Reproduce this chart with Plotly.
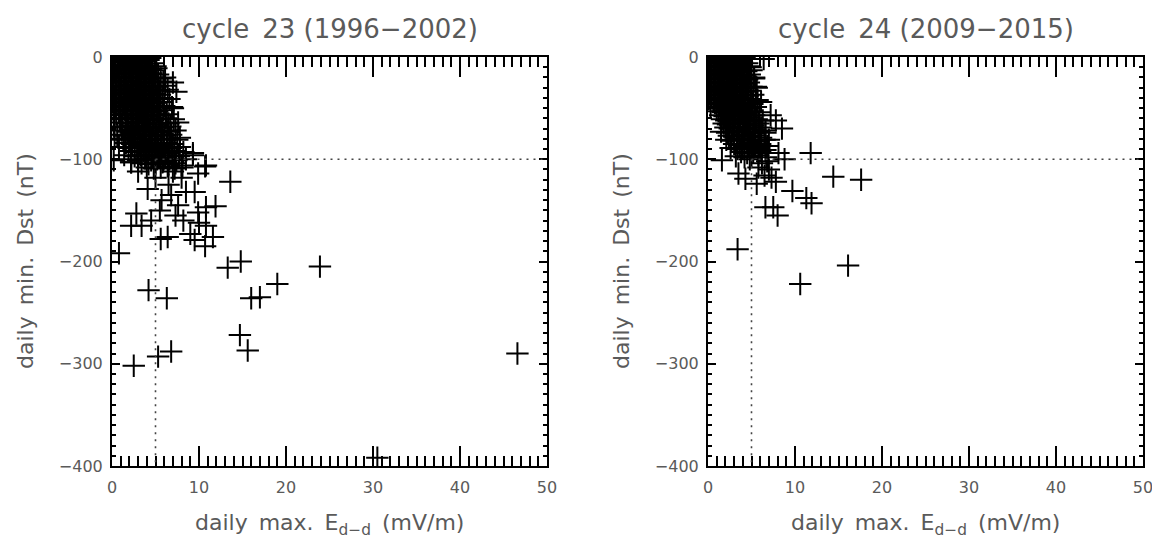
import plotly.graph_objects as go

# ---------------- cycle 23 (1996-2002) ----------------
x23 = [
    0.2,0.7,1.2,1.8,2.3,2.9,3.4,3.9,4.4,
    0.4,1.0,1.5,2.1,2.6,3.1,3.7,4.6,
    0.1,0.6,1.3,1.9,2.4,3.0,3.5,4.1,5.0,
    0.3,0.9,1.4,2.0,2.7,3.2,3.8,4.4,4.9,
    0.2,0.8,1.6,2.2,2.8,3.3,3.9,4.5,5.3,
    0.5,1.1,1.7,2.3,2.9,3.6,4.2,4.8,5.6,
    0.1,0.7,1.3,1.9,2.5,3.1,3.7,4.3,5.0,5.9,
    0.4,1.0,1.6,2.2,2.8,3.4,4.0,4.6,5.2,6.1,
    0.2,0.8,1.5,2.1,2.7,3.3,3.9,4.5,5.4,6.4,
    0.5,1.1,1.8,2.4,3.0,3.6,4.2,4.8,5.5,
    0.3,0.9,1.4,2.0,2.6,3.2,3.8,4.4,5.1,5.8,6.6,
    0.1,0.7,1.3,1.9,2.5,3.1,3.7,4.3,4.9,5.6,
    0.4,1.0,1.7,2.3,2.9,3.5,4.1,4.7,5.3,6.0,6.9,
    0.2,0.8,1.5,2.1,2.7,3.3,3.9,4.5,5.2,5.9,
    0.5,1.2,1.8,2.4,3.0,3.6,4.2,4.8,5.5,6.3,
    0.3,0.9,1.6,2.2,2.8,3.4,4.0,4.7,5.4,6.2,7.1,
    1.0,1.7,2.3,2.9,3.5,4.1,4.8,5.6,6.5,
    0.2,1.2,1.9,2.5,3.1,3.7,4.4,5.1,5.8,6.7,
    1.1,1.8,2.4,3.0,3.6,4.3,5.0,5.7,6.4,7.3,
    0.6,1.5,2.1,2.7,3.3,3.9,4.6,5.3,6.0,6.8,
    0.3,1.3,2.0,2.6,3.2,3.8,4.5,5.2,5.9,6.6,7.5,
    1.6,2.3,2.9,3.5,4.2,4.9,5.6,6.3,7.0,
    0.8,1.9,2.6,3.2,3.9,4.6,5.3,6.0,6.8,7.8,
    2.2,2.9,3.6,4.3,5.0,5.7,6.4,7.2,8.2,
    1.4,2.6,3.3,4.0,4.7,5.4,6.1,6.9,7.7,
    0.2,2.2,3.0,3.8,4.5,5.2,5.9,6.6,7.4,8.5,
    3.4,4.2,5.0,5.8,6.5,7.3,8.0,
    2.2,4.0,4.8,5.6,6.4,7.2,8.1,
    4.2,5.1,6.1,7.0,7.4,7.0,7.6,7.8,9.3,10.8,9.9,13.6,9.5,4.1,5.7,7.6,
    9.9,10.8,11.9,7.3,2.8,2.2,3.4,4.5,5.6,6.4,9.0,9.5,10.7,10.8,11.6,0.8,
    13.3,14.8,23.9,19.0,16.0,17.0,4.2,6.3,14.7,15.6,5.3,6.8,2.5,46.6,30.5,
    2.2,9.3,10.7,8.0,6.5,7.0,5.0,3.0,8.5,6.8,5.5,8.2,10.0,
]
y23 = [
    -1,-2,-1,-3,-1,-2,-1,-3,-1,
    -4,-5,-4,-6,-4,-5,-4,-6,
    -8,-9,-8,-7,-9,-8,-10,-8,-9,
    -12,-13,-12,-11,-13,-12,-14,-12,-13,
    -16,-17,-16,-15,-17,-16,-18,-16,-17,
    -20,-21,-20,-19,-21,-20,-22,-20,-21,
    -24,-25,-24,-23,-25,-24,-26,-24,-25,-24,
    -28,-29,-28,-27,-29,-28,-30,-28,-29,-28,
    -32,-33,-32,-31,-33,-32,-34,-32,-33,-32,
    -36,-37,-36,-35,-37,-36,-38,-36,-37,
    -40,-41,-40,-39,-41,-40,-42,-40,-41,-40,-41,
    -44,-45,-44,-43,-45,-44,-46,-44,-45,-44,
    -48,-49,-48,-47,-49,-48,-50,-48,-49,-48,-49,
    -52,-53,-52,-51,-53,-52,-54,-52,-53,-52,
    -56,-57,-56,-55,-57,-56,-58,-56,-57,-56,
    -60,-61,-60,-59,-61,-60,-62,-60,-61,-60,-61,
    -64,-65,-64,-63,-65,-64,-66,-64,-65,
    -68,-69,-68,-67,-69,-68,-70,-68,-69,-68,
    -72,-73,-72,-71,-73,-72,-74,-72,-73,-72,
    -76,-77,-76,-75,-77,-76,-78,-76,-77,-76,
    -80,-81,-80,-79,-81,-80,-82,-80,-81,-80,-81,
    -84,-85,-84,-83,-85,-84,-86,-84,-85,
    -88,-89,-88,-87,-89,-88,-90,-88,-89,-88,
    -92,-93,-92,-91,-93,-92,-94,-92,-93,
    -96,-97,-96,-95,-97,-96,-98,-96,-97,
    -101,-100,-101,-99,-101,-100,-102,-100,-101,-100,
    -104,-105,-104,-103,-105,-104,-106,
    -103,-108,-109,-108,-107,-109,-108,
    -3,-11,-20,-25,-34,-50,-64,-79,-94,-106,-114,-122,-132,-129,-140,-145,
    -152,-147,-146,-155,-153,-165,-165,-160,-178,-176,-173,-179,-185,-165,-176,-192,
    -206,-200,-205,-222,-236,-235,-228,-236,-272,-287,-293,-288,-302,-290,-392,
    -103,-96,-107,-118,-125,-112,-118,-112,-132,-135,-150,-160,-162,
]

# ---------------- cycle 24 (2009-2015) ----------------
x24 = [
    0.2,0.7,1.2,1.7,2.2,2.7,3.2,3.7,4.2,
    0.4,0.9,1.4,1.9,2.4,2.9,3.4,3.9,4.5,
    0.1,0.6,1.1,1.6,2.1,2.6,3.1,3.6,4.1,4.7,
    0.3,0.8,1.3,1.8,2.3,2.8,3.3,3.8,4.4,5.0,
    0.2,0.7,1.2,1.7,2.2,2.7,3.2,3.7,4.2,4.8,
    0.4,0.9,1.4,1.9,2.4,2.9,3.4,3.9,4.5,5.3,
    0.1,0.6,1.1,1.6,2.1,2.6,3.1,3.6,4.1,4.7,
    0.3,0.8,1.3,1.8,2.3,2.8,3.3,3.8,4.4,5.0,5.6,
    0.2,0.7,1.2,1.7,2.2,2.7,3.2,3.7,4.3,4.9,
    0.4,0.9,1.4,1.9,2.4,2.9,3.4,4.0,4.6,5.2,
    0.1,0.6,1.1,1.6,2.1,2.6,3.1,3.7,4.3,4.9,5.7,
    0.8,1.3,1.8,2.3,2.8,3.3,3.9,4.5,5.1,
    0.3,1.0,1.5,2.0,2.5,3.0,3.6,4.2,4.8,5.5,
    1.2,1.7,2.2,2.7,3.2,3.8,4.4,5.0,5.9,
    1.4,1.9,2.4,2.9,3.5,4.1,4.7,5.3,
    1.6,2.1,2.6,3.1,3.7,4.3,4.9,5.6,6.3,
    1.8,2.3,2.8,3.4,4.0,4.6,5.2,5.8,
    2.0,2.5,3.0,3.6,4.2,4.8,5.4,6.1,
    1.5,2.2,2.8,3.4,4.0,4.6,5.2,5.9,6.6,
    2.4,3.0,3.6,4.2,4.8,5.4,6.1,
    2.1,2.7,3.3,3.9,4.5,5.1,5.8,6.5,
    3.0,3.6,4.2,4.8,5.4,6.0,6.8,
    2.6,3.4,4.0,4.6,5.2,5.9,6.6,
    3.8,4.5,5.2,6.0,6.9,
    3.2,4.2,5.0,5.8,6.7,
    6.4,4.9,5.3,5.5,6.1,7.2,7.8,8.5,6.6,7.0,8.1,1.6,11.8,14.4,17.6,3.5,
    4.3,5.6,7.8,9.7,11.3,11.9,6.6,7.5,8.0,3.4,16.1,10.6,6.2,7.0,6.5,7.3,
    5.8,4.8,6.8,8.8,
]
y24 = [
    -1,-2,-1,-3,-1,-2,-1,-3,-1,
    -5,-6,-5,-4,-6,-5,-7,-5,-6,
    -9,-10,-9,-8,-10,-9,-11,-9,-10,-9,
    -13,-14,-13,-12,-14,-13,-15,-13,-14,-13,
    -17,-18,-17,-16,-18,-17,-19,-17,-18,-17,
    -21,-22,-21,-20,-22,-21,-23,-21,-22,-21,
    -25,-26,-25,-24,-26,-25,-27,-25,-26,-25,
    -29,-30,-29,-28,-30,-29,-31,-29,-30,-29,-30,
    -33,-34,-33,-32,-34,-33,-35,-33,-34,-33,
    -37,-38,-37,-36,-38,-37,-39,-37,-38,-37,
    -41,-42,-41,-40,-42,-41,-43,-41,-42,-41,-42,
    -45,-46,-45,-44,-46,-45,-47,-45,-46,
    -49,-50,-49,-48,-50,-49,-51,-49,-50,-49,
    -53,-54,-53,-52,-54,-53,-55,-53,-54,
    -57,-58,-57,-56,-58,-57,-59,-57,
    -61,-62,-61,-60,-62,-61,-63,-61,-62,
    -65,-66,-65,-64,-66,-65,-67,-65,
    -69,-70,-69,-68,-70,-69,-71,-69,
    -73,-74,-73,-72,-74,-73,-75,-73,-74,
    -77,-78,-77,-76,-78,-77,-79,
    -81,-82,-81,-80,-82,-81,-83,-81,
    -85,-86,-85,-84,-86,-85,-87,
    -89,-90,-89,-88,-90,-89,-91,
    -93,-94,-93,-92,-94,
    -97,-98,-97,-96,-98,
    -2,-10,-20,-29,-44,-57,-62,-70,-72,-81,-94,-101,-94,-117,-120,-114,
    -119,-124,-122,-131,-138,-143,-147,-147,-155,-188,-204,-222,-104,-110,-116,-118,
    -108,-100,-102,-100,
]

titles = ["cycle\u200223 (1996\u22122002)", "cycle\u200224 (2009\u22122015)"]
x_title = "daily\u2002max.\u2002E<sub>d\u2212d</sub>\u2002(mV/m)"
y_title = "daily\u2002min.\u2002Dst\u2002(nT)"
x_ticks = [0, 10, 20, 30, 40, 50]
y_ticks = [0, -100, -200, -300, -400]
threshold_e = 5
threshold_dst = -100

FONT = "DejaVu Sans"
TXT = "#5a5a5a"
W, H, OFF = 1160, 540, 8   # page body margin shifts the figure by OFF px


def px(x):
    return (x - OFF) / W


def py(y):
    return 1 - (y - OFF) / H


fig = go.Figure()
marker = dict(symbol="cross-thin", size=16, color="black",
              line=dict(width=2, color="black"))
fig.add_trace(go.Scatter(x=x23, y=y23, mode="markers", marker=marker,
                         xaxis="x", yaxis="y", showlegend=False))
fig.add_trace(go.Scatter(x=x24, y=y24, mode="markers", marker=marker,
                         xaxis="x2", yaxis="y2", showlegend=False))

xpix = [(112, 547), (708, 1143)]
xdoms = [[px(a), px(b)] for a, b in xpix]
ydom = [py(466), py(57)]


def xax(dom, anchor):
    return dict(domain=dom, anchor=anchor, range=[x_ticks[0], x_ticks[-1]],
                tickmode="linear", tick0=x_ticks[0], dtick=x_ticks[1] - x_ticks[0],
                showgrid=False, zeroline=False, showline=True, linecolor="black",
                linewidth=2, mirror="ticks", ticks="inside", ticklen=20,
                tickwidth=1.5, tickcolor="black", ticklabelstandoff=6,
                minor=dict(dtick=1, ticks="inside", ticklen=10, tickwidth=1.5,
                           tickcolor="black", showgrid=False),
                tickfont=dict(family=FONT, size=16, color=TXT))


def yax(anchor):
    return dict(domain=ydom, anchor=anchor, range=[y_ticks[-1], y_ticks[0]],
                tickmode="linear", tick0=y_ticks[0], dtick=y_ticks[0] - y_ticks[1],
                showgrid=False, zeroline=False, showline=True, linecolor="black",
                linewidth=2, mirror="ticks", ticks="inside", ticklen=8,
                tickwidth=1.5, tickcolor="black", ticklabelstandoff=4,
                minor=dict(dtick=10, ticks="inside", ticklen=4, tickwidth=1.5,
                           tickcolor="black", showgrid=False),
                tickfont=dict(family=FONT, size=16, color=TXT))


annotations = []
shapes = []
for i, ((a, b), xa, ya) in enumerate(zip(xpix, ["x", "x2"], ["y", "y2"])):
    cx = px((a + b) / 2)
    annotations.append(dict(text=titles[i], x=cx, y=py(29), xref="paper", yref="paper",
                            showarrow=False, xanchor="center", yanchor="middle",
                            font=dict(family=FONT, size=26, color=TXT)))
    annotations.append(dict(text=x_title, x=cx, y=py(508), xref="paper", yref="paper",
                            showarrow=False, xanchor="center", yanchor="top",
                            font=dict(family=FONT, size=22, color=TXT)))
    annotations.append(dict(text=y_title, x=px(a - 87), y=py(261),
                            xref="paper", yref="paper", showarrow=False, textangle=-90,
                            xanchor="center", yanchor="middle",
                            font=dict(family=FONT, size=22, color=TXT)))
    shapes.append(dict(type="line", xref=xa, yref=ya, x0=threshold_e, x1=x_ticks[-1],
                       y0=threshold_dst, y1=threshold_dst,
                       line=dict(color="#444", width=1.6, dash="2px,5px")))
    shapes.append(dict(type="line", xref=xa, yref=ya, x0=threshold_e, x1=threshold_e,
                       y0=threshold_dst, y1=y_ticks[-1],
                       line=dict(color="#444", width=1.6, dash="2px,5px")))

fig.update_layout(
    autosize=False,
    width=W, height=H, margin=dict(l=0, r=0, t=0, b=0, autoexpand=False),
    paper_bgcolor="white", plot_bgcolor="white",
    xaxis=xax(xdoms[0], "y"), yaxis=yax("x"),
    xaxis2=xax(xdoms[1], "y2"), yaxis2=yax("x2"),
    annotations=annotations, shapes=shapes,
)
fig.write_html("out.html")
